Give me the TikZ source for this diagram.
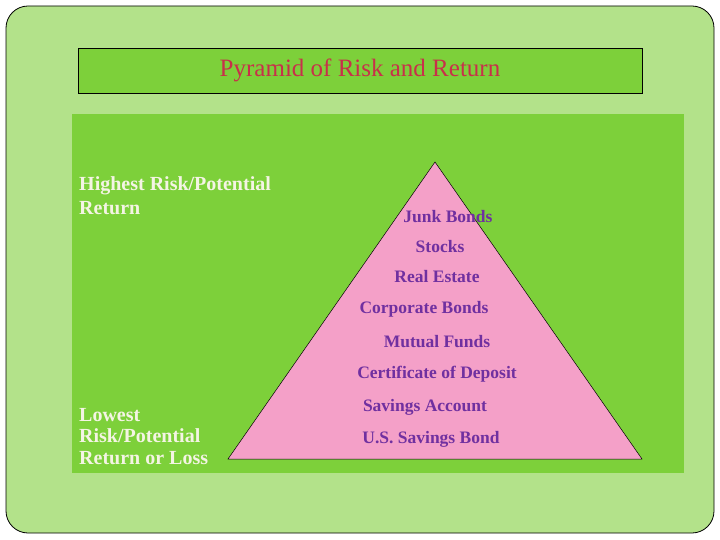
\documentclass[tikz,border=0pt]{standalone}
\usepackage{fontspec}
\setmainfont{Liberation Serif}
\definecolor{outergreen}{HTML}{B3E28A}
\definecolor{boxgreen}{HTML}{7DD03A}
\definecolor{pinkfill}{HTML}{F4A0C8}
\definecolor{titlered}{HTML}{C8304A}
\definecolor{itempurple}{HTML}{7030A0}
\definecolor{sidewhite}{HTML}{F4F4E4}
\tikzset{
  item/.style={text=itempurple, font=\fontsize{17.5}{20}\selectfont\bfseries, inner sep=0pt, anchor=center},
  side/.style={text=sidewhite, font=\fontsize{20}{24}\selectfont\bfseries, inner sep=0pt, anchor=north west, align=left},
}
\begin{document}
\begin{tikzpicture}[x=1pt,y=-1pt]
\useasboundingbox (0,0) rectangle (720,540);
\draw[fill=outergreen, rounded corners=22pt, line width=0.8pt] (6,6) rectangle (714,533);
\node[draw=black, fill=boxgreen, minimum width=564pt, minimum height=45pt, line width=0.6pt] (title) at (360,70.5) {};
\node[text=titlered, font=\fontsize{25}{28}\selectfont, inner sep=0pt] (titletext) at (360,70) {Pyramid of Risk and Return};
\fill[boxgreen] (72,114) rectangle (684,473);
\coordinate (apex) at (435,162);
\coordinate (bl) at (228,459);
\coordinate (br) at (642,459);
\draw[fill=pinkfill, line width=0.5pt] (apex) -- (bl) -- (br) -- cycle;
\node[side] (high) at (79,176) {Highest Risk/Potential\\Return};
\node[side, font=\fontsize{20}{21.5}\selectfont\bfseries] (low) at (79,408) {Lowest\\Risk/Potential\\Return or Loss};
\node[item] (i1) at (448,217) {Junk Bonds};
\node[item] (i2) at (440,247) {Stocks};
\node[item] (i3) at (437,277) {Real Estate};
\node[item] (i4) at (424,309) {Corporate Bonds};
\node[item] (i5) at (437,342) {Mutual Funds};
\node[item] (i6) at (437,374) {Certificate of Deposit};
\node[item] (i7) at (425,407) {Savings Account};
\node[item] (i8) at (431,439) {U.S. Savings Bond};
\end{tikzpicture}
\end{document}
